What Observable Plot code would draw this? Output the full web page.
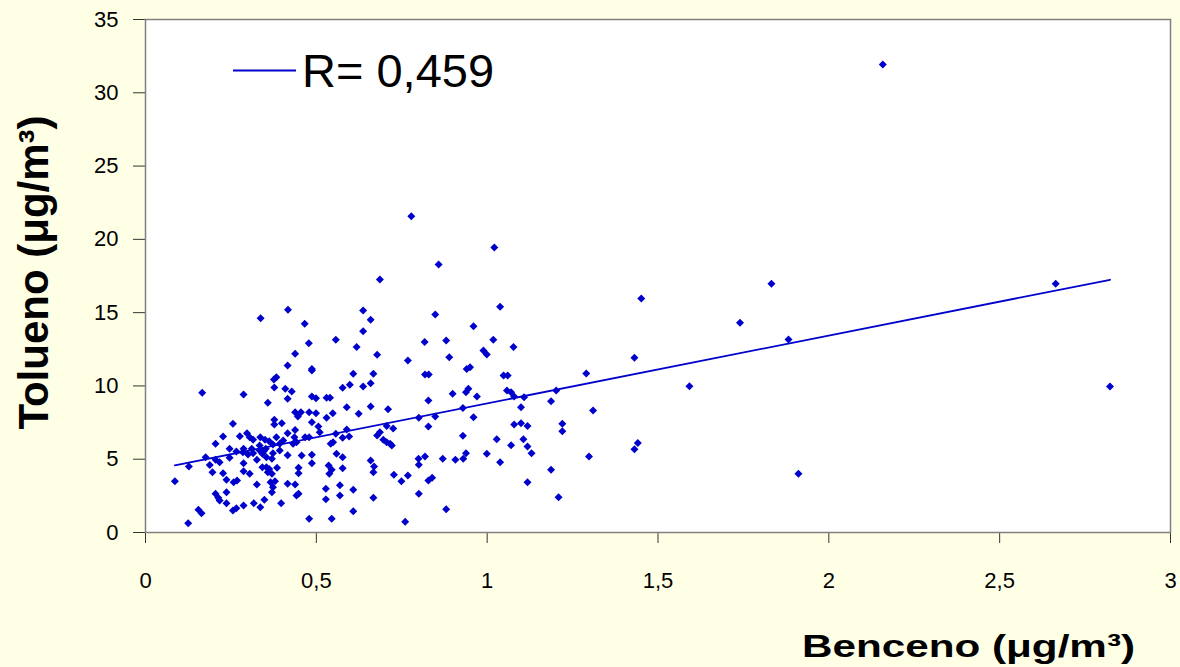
<!DOCTYPE html>
<html>
<head>
<meta charset="utf-8">
<script src="https://cdn.jsdelivr.net/npm/d3@7"></script>
<script src="https://cdn.jsdelivr.net/npm/@observablehq/plot@0.6"></script>
<style>
  html, body { margin: 0; padding: 0; background: #FFFFE6; }
  svg { display: block; }
</style>
</head>
<body>
<script>
// Benceno (x) and Tolueno (y), µg/m³
const benceno = [
  0.417,0.337,0.466,0.478,0.557,0.618,0.438,0.416,0.487,0.487,
  0.608,0.383,0.376,0.598,0.577,0.377,0.409,0.428,0.166,0.287,
  0.487,0.499,0.530,0.540,0.416,0.358,0.589,0.438,0.455,0.479,
  0.499,0.548,0.624,0.446,0.530,0.377,0.377,0.399,0.256,0.487,
  0.506,0.438,0.589,0.510,0.416,0.557,0.297,0.276,0.227,0.305,
  0.315,0.336,0.350,0.362,0.383,0.403,0.436,0.442,0.467,0.479,
  0.577,0.596,0.205,0.334,0.373,0.393,0.432,0.542,0.549,0.246,
  0.266,0.287,0.311,0.334,0.346,0.352,0.393,0.176,0.205,0.217,
  0.246,0.300,0.342,0.354,0.370,0.416,0.457,0.487,0.559,0.577,
  0.577,0.188,0.287,0.326,0.342,0.354,0.362,0.385,0.448,0.487,
  0.536,0.545,0.127,0.196,0.227,0.287,0.305,0.358,0.370,0.448,
  0.538,0.086,0.237,0.258,0.268,0.326,0.366,0.379,0.416,0.438,
  0.373,0.370,0.569,0.528,0.608,0.205,0.213,0.237,0.217,0.442,
  0.448,0.569,0.528,0.237,0.287,0.317,0.348,0.397,0.256,0.266,
  0.336,0.155,0.164,0.608,0.479,0.545,0.125,0.373,0.285,0.315,
  0.686,0.637,0.659,0.637,0.678,0.848,1.038,0.960,0.817,0.880,
  1.018,1.077,0.768,0.889,0.989,0.999,0.667,0.818,0.829,0.940,
  0.950,1.048,1.060,0.637,0.659,0.945,0.938,1.058,1.070,0.899,
  0.970,1.079,0.828,0.659,0.710,0.800,0.848,0.929,0.960,1.099,
  1.187,1.202,1.108,0.706,0.725,0.828,1.079,1.099,1.118,0.678,
  0.686,0.696,0.706,0.716,0.721,0.929,1.028,1.106,1.070,1.118,
  1.130,0.659,0.669,0.667,0.799,0.800,0.818,0.870,0.907,0.930,
  0.938,0.999,1.038,1.187,0.727,0.749,0.768,0.828,0.839,1.118,
  0.667,0.800,0.880,0.760,1.209,
  1.451,1.740,1.431,1.290,1.592,1.310,1.220,1.220,1.441,1.431,1.298,
  0.778,1.021,0.858,
  1.832,2.664,1.882,2.823,1.911,
  2.158
];
const tolueno = [
  15.19,14.62,14.24,12.92,13.15,12.65,12.19,11.40,11.16,11.05,
  10.83,10.60,10.44,10.08,9.87,9.89,9.80,9.62,9.53,9.41,
  9.28,9.16,9.19,9.19,9.12,8.85,8.54,8.21,8.21,8.21,
  8.14,8.14,8.10,7.91,7.83,7.69,7.37,7.46,7.42,7.53,
  7.23,7.00,7.02,6.84,6.77,6.73,6.77,6.57,6.55,6.50,
  6.33,6.50,6.33,6.23,6.50,6.28,6.50,6.16,6.50,6.50,
  6.46,6.55,6.05,5.93,6.00,6.05,6.05,6.05,6.16,5.71,
  5.52,5.71,5.71,5.59,5.55,5.71,5.59,5.14,4.96,4.80,
  5.10,5.32,5.37,5.14,5.03,5.27,5.25,5.30,5.37,5.14,
  4.38,4.61,4.72,4.96,4.45,4.45,4.34,4.41,4.41,4.72,
  4.57,4.28,4.50,4.11,4.05,4.18,4.01,4.11,4.01,4.05,
  4.01,3.50,3.60,3.43,3.54,3.27,3.43,3.50,3.32,3.27,
  3.09,2.75,3.22,2.98,2.91,2.64,2.37,2.75,2.19,2.53,
  2.64,2.53,2.26,2.00,1.84,2.00,2.23,2.00,1.50,1.66,
  1.72,1.55,1.32,1.45,0.94,0.94,0.63,5.41,5.48,5.41,
  17.26,15.14,14.51,13.73,12.13,14.87,15.41,14.07,12.99,13.10,
  13.15,12.65,11.74,11.96,12.41,12.14,10.83,10.78,10.78,11.16,
  11.27,10.71,10.71,9.96,10.18,9.80,9.57,9.68,9.57,9.46,
  9.28,9.28,9.01,8.59,8.41,7.83,7.91,8.50,7.87,8.54,
  8.96,9.68,9.23,7.27,7.09,7.23,7.37,7.46,7.27,6.62,
  6.84,6.33,6.16,6.05,5.93,6.60,6.37,6.37,5.95,5.86,
  5.41,4.92,4.50,4.11,5.03,4.63,5.19,5.03,4.96,5.03,
  5.41,5.37,4.80,4.28,3.94,3.50,3.89,3.54,3.73,3.43,
  2.37,2.64,1.59,0.74,2.41,
  15.96,14.31,11.92,10.85,9.98,8.32,7.42,6.91,6.10,5.68,5.19,
  21.58,19.44,18.28,
  16.97,16.97,13.17,9.96,4.01,
  31.93
];

const xTicks = [0, 0.5, 1, 1.5, 2, 2.5, 3];
const xTickLabels = ["0", "0,5", "1", "1,5", "2", "2,5", "3"];
const yTicks = [0, 5, 10, 15, 20, 25, 30, 35];
const xTitle = "Benceno (\u03BCg/m\u00B3)";
const yTitle = "Tolueno (\u03BCg/m\u00B3)";
const legendLabel = "R= 0,459";

const data = benceno.map((b, i) => ({b, t: tolueno[i]}));
const blue = "#0000CC";
const font = "'Liberation Sans', Arial, sans-serif";

const chart = Plot.plot({
  width: 1180,
  height: 667,
  marginLeft: 145,
  marginRight: 10,
  marginTop: 19,
  marginBottom: 135,
  x: {domain: [0, 3]},
  y: {domain: [0, 35]},
  style: {background: "#FFFFE6", fontFamily: font, color: "black", overflow: "visible"},
  marks: [
    Plot.frame({fill: "white", stroke: null}),
    Plot.axisY({ticks: yTicks, tickSize: 12, tickPadding: 15, fontSize: 22, label: null, stroke: "#333"}),
    Plot.axisX({ticks: xTicks, tickSize: 11, tickPadding: 29, fontSize: 22, label: null, stroke: "#333",
      tickFormat: d => xTickLabels[xTicks.indexOf(d)]}),
    Plot.dot(data, {x: "b", y: "t", symbol: "diamond2", r: 3.6, fill: blue, stroke: null}),
    Plot.linearRegressionY(data, {x: "b", y: "t", stroke: blue, strokeWidth: 1.8, ci: 0}),
    Plot.frame({stroke: "#808080", strokeWidth: 1.5})
  ]
});

document.body.appendChild(chart);
const svg = d3.select(chart);

// Legend
svg.append("line")
  .attr("x1", 233).attr("x2", 296).attr("y1", 70.5).attr("y2", 70.5)
  .attr("stroke", blue).attr("stroke-width", 1.8);
svg.append("text")
  .attr("x", 302).attr("y", 87)
  .attr("text-anchor", "start")
  .attr("font-family", font).attr("font-size", 47).attr("fill", "black")
  .text(legendLabel);

// Axis titles
svg.append("text")
  .attr("x", 802).attr("y", 657)
  .attr("text-anchor", "start")
  .attr("font-family", font).attr("font-size", 32).attr("font-weight", "bold")
  .attr("textLength", 333).attr("lengthAdjust", "spacingAndGlyphs")
  .attr("fill", "black")
  .text(xTitle);
svg.append("text")
  .attr("transform", "translate(48,272.5) rotate(-90)")
  .attr("text-anchor", "middle")
  .attr("font-family", font).attr("font-size", 42).attr("font-weight", "bold")
  .attr("fill", "black")
  .text(yTitle);
</script>
</body>
</html>
